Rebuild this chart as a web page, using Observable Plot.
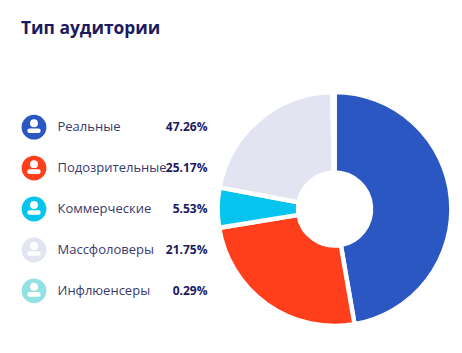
<!DOCTYPE html>
<html><head><meta charset="utf-8">
<script src="https://cdn.jsdelivr.net/npm/d3@7"></script>
<script src="https://cdn.jsdelivr.net/npm/@observablehq/plot@0.6"></script>
<style>
html,body{margin:0;padding:0;background:#fff;width:462px;height:353px;overflow:hidden}
#title{height:50px;box-sizing:border-box;padding:15px 0 0 21px;font:700 17.4px/24px "Open Sans",sans-serif;color:#1b1a5e;letter-spacing:0}
svg{display:block}
</style></head><body>
<div id="title">Тип аудитории</div>
<div id="chart"></div>
<script>
const categories = ["Реальные","Подозрительные","Коммерческие","Массфоловеры","Инфлюенсеры"];
const shares = [47.26,25.17,5.53,21.75,0.29];
const shareLabels = ["47.26%","25.17%","5.53%","21.75%","0.29%"];
const palette = ["#2b57c3","#ff3f1c","#05c5ee","#e3e4f2","#93e1e3"];
const ink = "#1b1a5e", soft = "#3a3a6e";

const rows = categories.map((name,i)=>({name,share:shares[i],label:shareLabels[i]}));
const person = {draw(c,size){
  const s = Math.sqrt(size/Math.PI);
  const hr = .32*s, hy = -.32*s;
  c.moveTo(hr,hy); c.arc(0,hy,hr,0,2*Math.PI);
  const x0=-.54*s,x1=.54*s,y0=.1*s,y1=.47*s,r=.18*s;
  c.moveTo(x0+r,y0); c.lineTo(x1-r,y0); c.arc(x1-r,y0+r,r,-Math.PI/2,0);
  c.arc(x1-r,y1-r,r,0,Math.PI/2); c.lineTo(x0+r,y1); c.arc(x0+r,y1-r,r,Math.PI/2,Math.PI); c.arc(x0+r,y0+r,r,Math.PI,1.5*Math.PI);
  c.closePath();
}};
function pie(index,scales){
  const g = d3.create("svg:g").attr("transform","translate(334.5,159)");
  const arcs = d3.pie().sort(null).value(d=>d.share)(rows);
  const arc = d3.arc().innerRadius(36.5).outerRadius(116.9);
  g.selectAll("path").data(arcs).join("path")
    .attr("d",arc).attr("fill",d=>scales.color(d.data.name))
    .attr("stroke","#fff").attr("stroke-width",4.5);
  g.append("circle").attr("r",36.5).attr("fill","#fff");
  return g.node();
}
const plot = Plot.plot({
  width:462,height:303,margin:0,
  x:{axis:null},
  y:{type:"point",domain:categories,range:[76.7,240.3],padding:0,round:false,axis:null},
  color:{type:"ordinal",domain:categories,range:palette},
  marks:[
    pie,
    Plot.dot(rows,{y:"name",frameAnchor:"left",dx:33.5,r:12.4,fill:"name"}),
    Plot.dot(rows,{y:"name",frameAnchor:"left",dx:33.5,r:12.4,fill:"#fff",symbol:person}),
    Plot.text(rows,{y:"name",text:"name",frameAnchor:"left",dx:57,textAnchor:"start",fontSize:13,fill:soft,fontFamily:"Open Sans"}),
    Plot.text(rows,{y:"name",text:"label",frameAnchor:"left",dx:207,textAnchor:"end",fontSize:12,fontWeight:700,fill:ink,fontFamily:"Open Sans"})
  ]
});
document.getElementById("chart").append(plot);
</script></body></html>
